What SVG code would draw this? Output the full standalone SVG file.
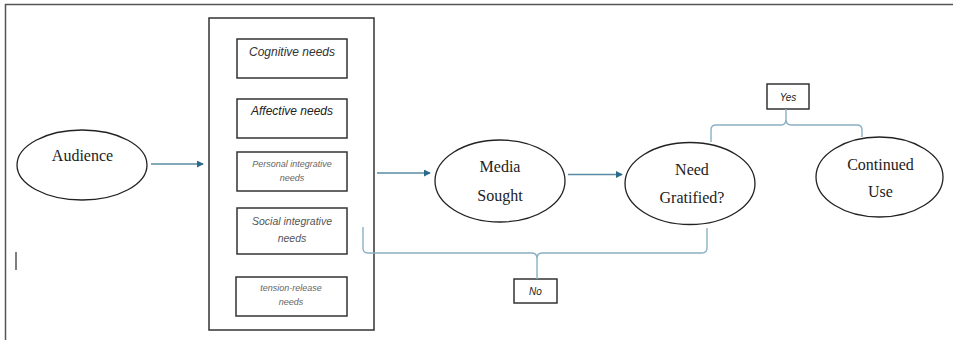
<svg xmlns="http://www.w3.org/2000/svg" width="953" height="340" viewBox="0 0 953 340">
<defs>
<style>
.box{fill:#fff;stroke:#333;stroke-width:1.5}
.ell{fill:#fff;stroke:#222;stroke-width:1.3}
.serif{font-family:"Liberation Serif","Times New Roman",serif;font-size:16px;fill:#222;text-anchor:middle}
.sans{font-family:"Liberation Sans",Arial,sans-serif;font-style:italic;text-anchor:middle}
.arrow{stroke:#5a8aa5;stroke-width:1.3;fill:none}
.brace{stroke:#8ab0c4;stroke-width:1.4;fill:none}
</style>
<marker id="ah" viewBox="0 0 8 8" refX="7" refY="4" markerWidth="7" markerHeight="7" markerUnits="userSpaceOnUse" orient="auto">
<path d="M0,0 L8,4 L0,8 z" fill="#2a6a8c"/>
</marker>
</defs>
<rect width="953" height="340" fill="#fff"/>
<path d="M5.5,340 V4.5 H953" fill="none" stroke="#555" stroke-width="1.5"/>
<line x1="16" y1="252" x2="16" y2="270" stroke="#555" stroke-width="1.5"/>

<g id="audience">
<ellipse class="ell" cx="82" cy="165" rx="65" ry="35"/>
<text class="serif" x="82.5" y="161">Audience</text>
</g>

<g id="needs">
<rect class="box" x="209" y="18" width="165" height="312"/>
<g id="cognitive">
<rect class="box" x="237" y="39" width="110" height="39"/>
<text class="sans" x="292" y="56" font-size="12" fill="#333">Cognitive needs</text>
</g>
<g id="affective">
<rect class="box" x="237" y="99" width="110" height="39"/>
<text class="sans" x="292" y="115" font-size="12" fill="#222">Affective needs</text>
</g>
<g id="personal">
<rect class="box" x="237" y="152" width="110" height="39"/>
<text class="sans" x="292" y="167" font-size="9" fill="#666">Personal integrative</text>
<text class="sans" x="292" y="181" font-size="9" fill="#666">needs</text>
</g>
<g id="social">
<rect class="box" x="237" y="208" width="110" height="46"/>
<text class="sans" x="292" y="225" font-size="10.5" fill="#555">Social integrative</text>
<text class="sans" x="292" y="242" font-size="10.5" fill="#555">needs</text>
</g>
<g id="tension">
<rect class="box" x="236" y="277" width="111" height="39"/>
<text class="sans" x="291" y="291" font-size="9" fill="#666">tension-release</text>
<text class="sans" x="291" y="305" font-size="9" fill="#666">needs</text>
</g>
</g>

<g id="media">
<ellipse class="ell" cx="500" cy="181" rx="65" ry="41"/>
<text class="serif" x="500" y="172">Media</text>
<text class="serif" x="500" y="201">Sought</text>
</g>

<g id="gratified">
<ellipse class="ell" cx="690" cy="183.5" rx="65" ry="41"/>
<text class="serif" x="692" y="175">Need</text>
<text class="serif" x="692" y="203">Gratified?</text>
</g>

<g id="continued">
<ellipse class="ell" cx="879.5" cy="177" rx="63.5" ry="40"/>
<text class="serif" x="880.5" y="170">Continued</text>
<text class="serif" x="880.5" y="197">Use</text>
</g>

<g id="yes">
<rect class="box" x="767" y="84" width="42" height="25"/>
<text class="sans" x="788" y="101" font-size="10" fill="#222">Yes</text>
</g>

<g id="no">
<rect class="box" x="514" y="279" width="43" height="24"/>
<text class="sans" x="535.5" y="295" font-size="10" fill="#222">No</text>
</g>

<g id="connectors">
<line class="arrow" x1="151" y1="164" x2="203" y2="164" marker-end="url(#ah)"/>
<line class="arrow" x1="377" y1="173" x2="430" y2="173" marker-end="url(#ah)"/>
<line class="arrow" x1="568" y1="174.5" x2="622" y2="174.5" marker-end="url(#ah)"/>
<path class="brace" d="M711,142 V130 Q711,125 716,125 H781 Q786,125 786,119 Q786,125 791,125 H857 Q862,125 862,130 V137 M786,119 V109"/>
<path class="brace" d="M363,227 V248 Q363,253 368,253 H532 Q537,253 537,259 Q537,253 542,253 H702 Q707,253 707,248 V228 M537,259 V279"/>
</g>
</svg>
